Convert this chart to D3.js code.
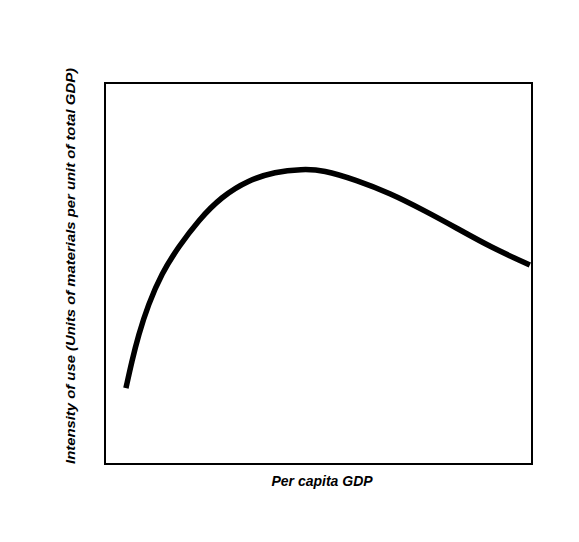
<!DOCTYPE html>
<html>
<head>
<meta charset="utf-8">
<script src="https://cdn.jsdelivr.net/npm/d3@7"></script>
<style>
  body { margin: 0; background: #fff; }
  svg { display: block; }
  .lbl { font-family: "Liberation Sans", Arial, sans-serif; font-weight: bold; font-style: italic; fill: #000; }
</style>
</head>
<body>
<svg id="chart" width="579" height="542"></svg>
<script>
(function(){
    // curve (arbitrary index units, 0-100 on both axes)
    var gdp       = [4.9, 6.3, 7.8, 10.1, 13.3, 17.2, 21.9, 27.3, 33.6, 39.8, 46.1, 51.1, 58.9, 66.7, 74.5, 82.4, 90.2, 99.5],
        intensity = [19.9, 27.0, 33.7, 41.8, 50.1, 57.0, 64.0, 70.2, 74.5, 76.7, 77.4, 77.2, 74.5, 71.1, 66.7, 61.9, 57.0, 52.2];

    var xTitle = "Per capita GDP",
        yTitle = "Intensity of use (Units of materials per unit  of total GDP)";

    var box = {left: 105, top: 83, right: 532, bottom: 464};

    var svg = d3.select("#chart");

    var x = d3.scaleLinear().domain([0, 100]).range([box.left, box.right]),
        y = d3.scaleLinear().domain([0, 100]).range([box.bottom, box.top]);

    // frame
    svg.append("rect")
        .attr("x", box.left)
        .attr("y", box.top)
        .attr("width", box.right - box.left)
        .attr("height", box.bottom - box.top)
        .attr("fill", "none")
        .attr("stroke", "#000")
        .attr("stroke-width", 2);

    var pts = gdp.map(function(d, i){ return [d, intensity[i]]; });

    // b-spline to smooth out reading errors
    var line = d3.line()
        .x(function(d){ return x(d[0]); })
        .y(function(d){ return y(d[1]); })
        .curve(d3.curveBasis);

    svg.append("path")
        .datum(pts)
        .attr("d", line)
        .attr("fill", "none")
        .attr("stroke", "#000")
        .attr("stroke-width", 5.5);

    // axis titles
    svg.append("text")
        .attr("class", "lbl")
        .attr("x", 322)
        .attr("y", 486)
        .attr("text-anchor", "middle")
        .style("font-size", "14px")
        .text(xTitle);

    svg.append("text")
        .attr("class", "lbl")
        .attr("transform", "translate(75," + 266 + ") rotate(-90)")
        .attr("text-anchor", "middle")
        .attr("textLength", 396)
        .attr("lengthAdjust", "spacingAndGlyphs")
        .style("font-size", "13px")
        .text(yTitle);
})();
</script>
</body>
</html>
